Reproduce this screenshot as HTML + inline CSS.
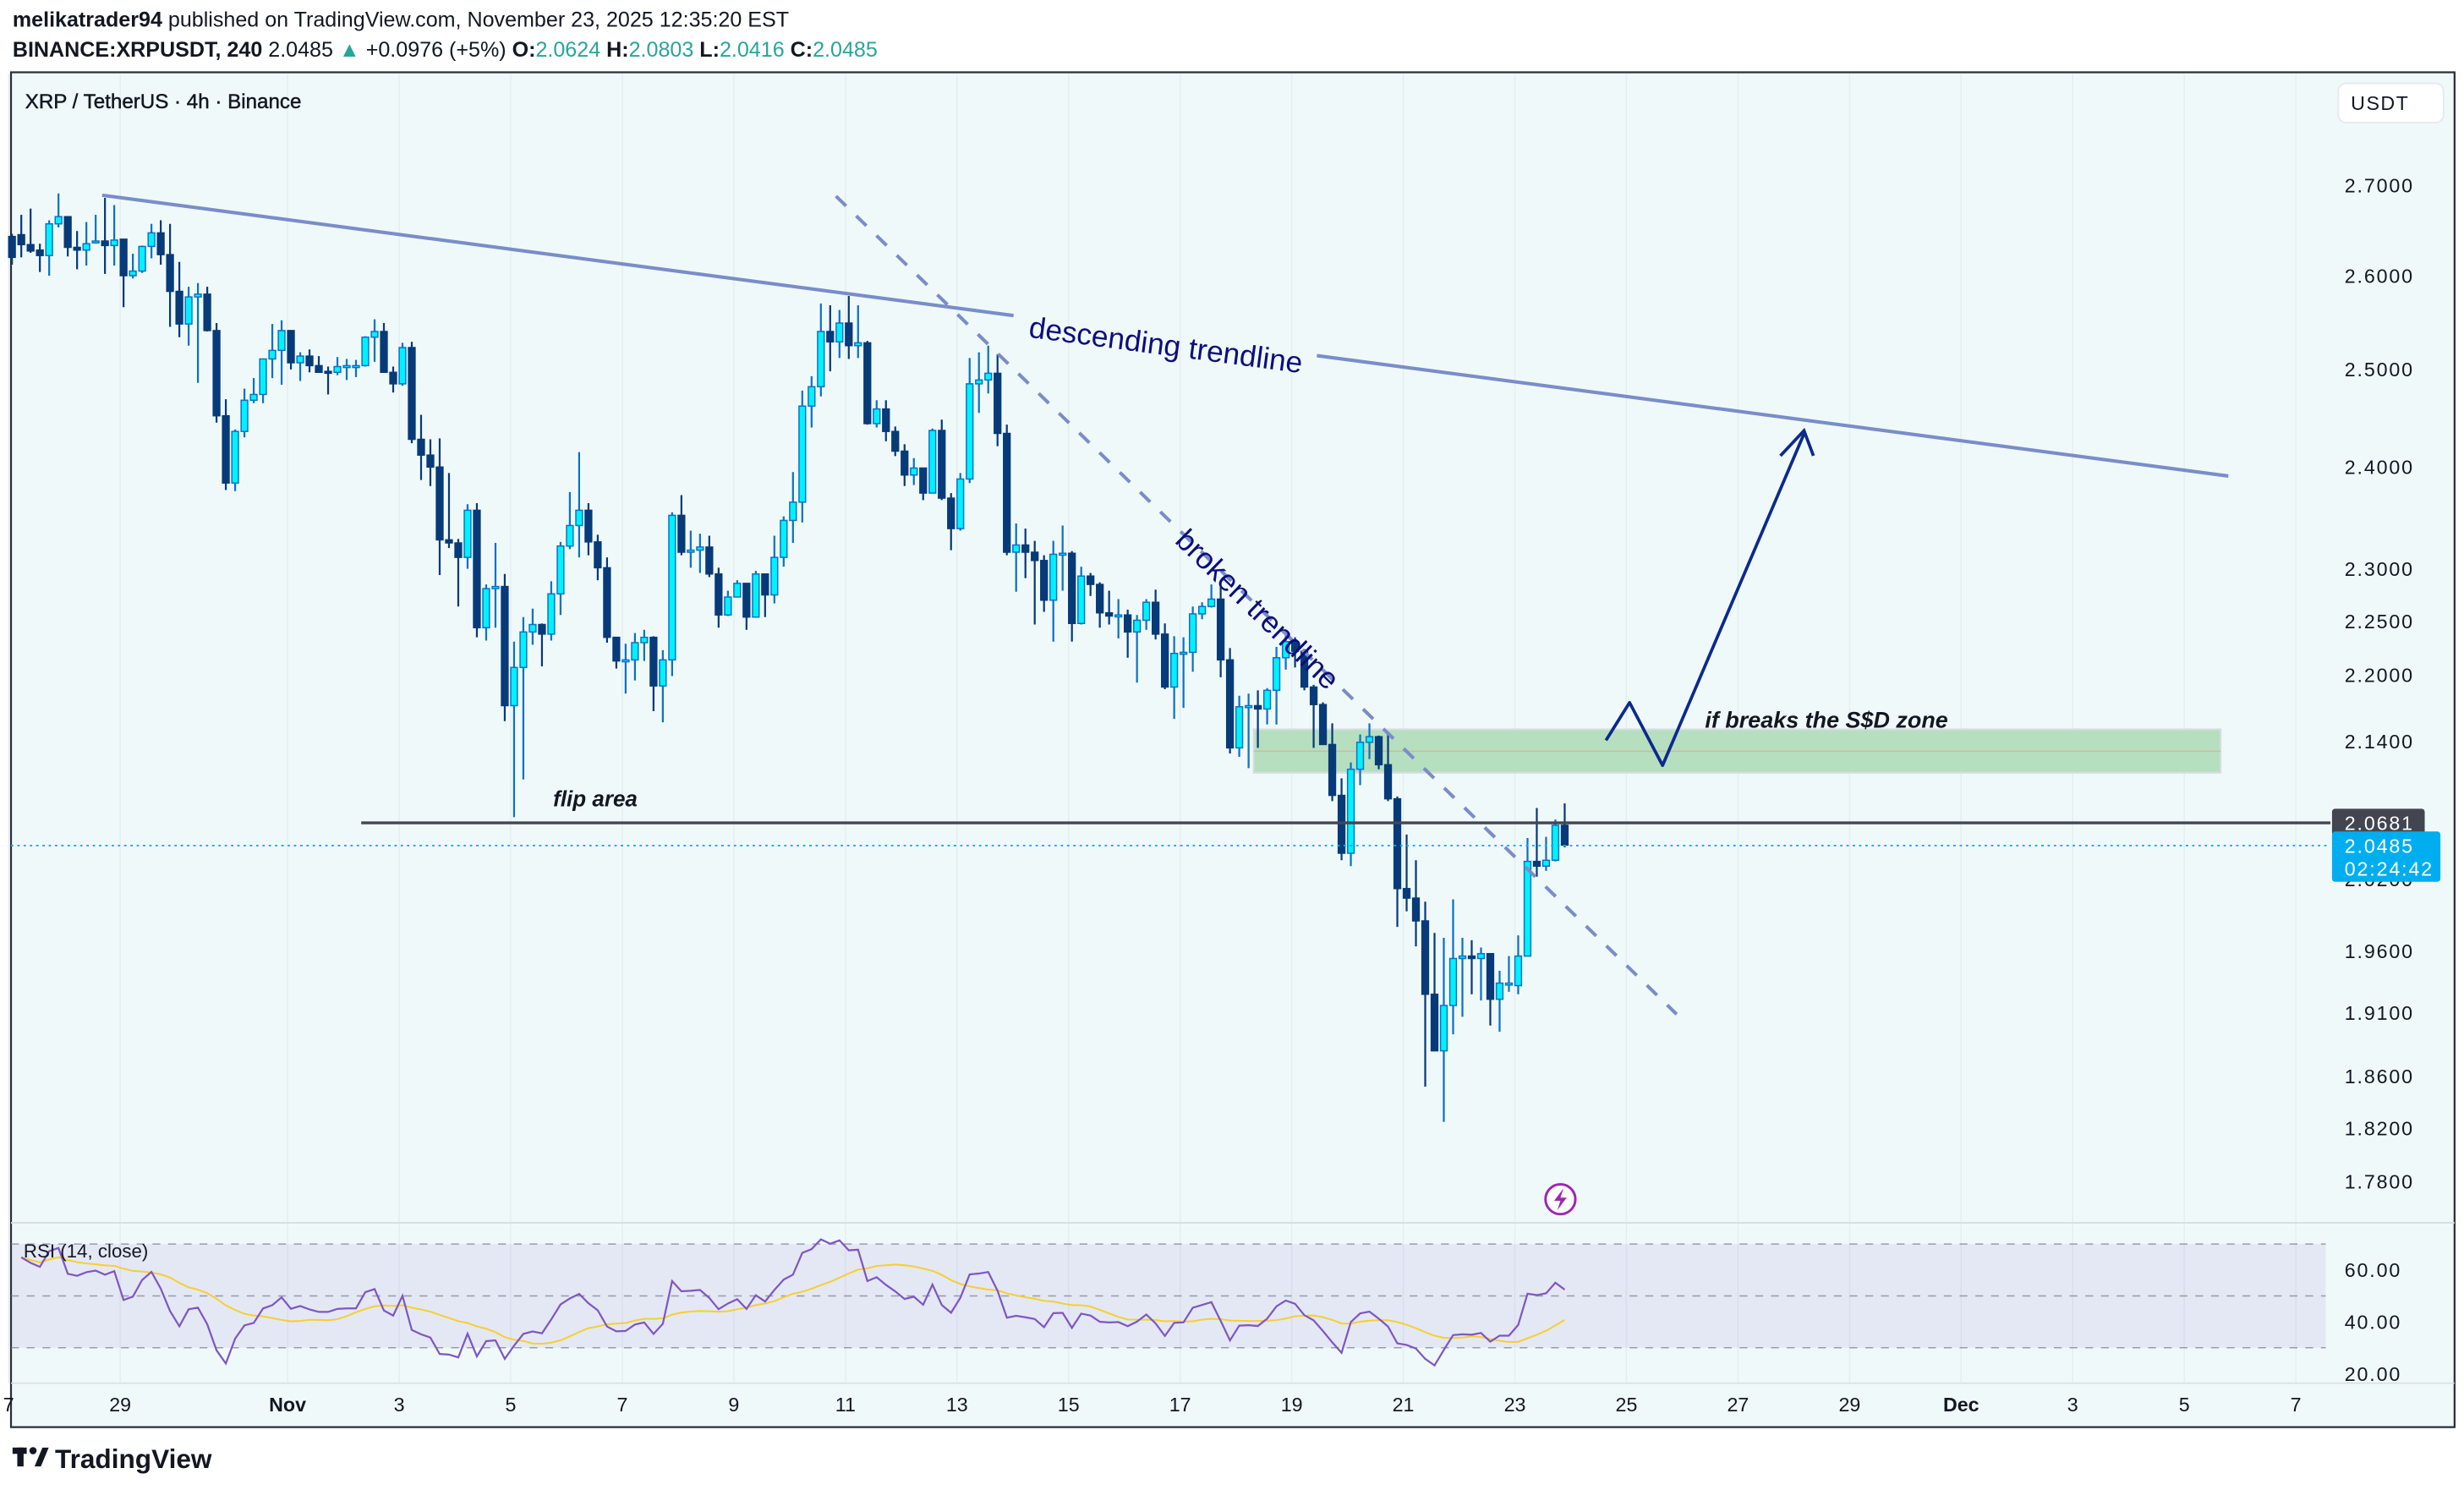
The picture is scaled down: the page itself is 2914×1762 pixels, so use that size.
<!DOCTYPE html>
<html><head><meta charset="utf-8">
<style>
html,body{margin:0;padding:0;background:#fff;}
body{width:2914px;height:1762px;overflow:hidden;font-family:"Liberation Sans",sans-serif;}
svg{display:block;}
</style></head>
<body>
<svg id="chart" width="2914" height="1762" viewBox="0 0 1568 948" preserveAspectRatio="none" xmlns="http://www.w3.org/2000/svg" font-family="Liberation Sans, sans-serif">
  <rect x="0" y="0" width="1568" height="948" fill="#ffffff"/>
  <text x="8" y="17" font-size="13.5" fill="#131722"><tspan font-weight="bold">melikatrader94</tspan> published on TradingView.com, November 23, 2025 12:35:20 EST</text>
  <text x="8" y="36" font-size="13.5" fill="#131722"><tspan font-weight="bold">BINANCE:XRPUSDT, 240</tspan> 2.0485 <tspan fill="#26a69a">▲</tspan> +0.0976 (+5%) <tspan font-weight="bold">O:</tspan><tspan fill="#26a69a">2.0624</tspan> <tspan font-weight="bold">H:</tspan><tspan fill="#26a69a">2.0803</tspan> <tspan font-weight="bold">L:</tspan><tspan fill="#26a69a">2.0416</tspan> <tspan font-weight="bold">C:</tspan><tspan fill="#26a69a">2.0485</tspan></text>
  <rect x="7" y="46" width="1555" height="862" fill="#f0f9fa" stroke="#2a2e39" stroke-width="1.2"/>
  <g id="grid"></g>
  <line x1="7" y1="778" x2="1562" y2="778" stroke="#d8dde2" stroke-width="1"/>
  <line x1="7" y1="880" x2="1562" y2="880" stroke="#d8dde2" stroke-width="0.8"/>
  <text x="16" y="69" font-size="13" fill="#131722" stroke="#131722" stroke-width="0.25">XRP / TetherUS · 4h · Binance</text>
  <rect x="1488" y="53" width="67" height="25" rx="5" fill="#ffffff" stroke="#e6e9ee"/>
  <text x="1496" y="70" font-size="12.5" fill="#131722" letter-spacing="0.8">USDT</text>
  <g id="annot-back"></g>
  <g id="candles"></g>
  <g id="annot"></g>
  <g id="rsi"></g>
  <g id="axes"></g>
  <g>
    <rect x="8" y="921" width="9" height="4" fill="#131722"/>
    <rect x="11" y="921" width="4" height="12" fill="#131722"/>
    <circle cx="21" cy="923" r="2.3" fill="#131722"/>
    <path d="M22,933 L27,921 L31,921 L26,933 Z" fill="#131722"/>
    <text x="35" y="934" font-size="17" font-weight="bold" fill="#131722">TradingView</text>
  </g>
</svg>
<script>
// ---- data ----
const opens = [2.643,2.645,2.634,2.628,2.622,2.657,2.665,2.631,2.628,2.636,
2.638,2.633,2.640,2.600,2.605,2.632,2.647,2.623,2.583,2.548,
2.577,2.580,2.541,2.452,2.384,2.436,2.468,2.474,2.511,2.520,
2.541,2.507,2.514,2.504,2.498,2.497,2.503,2.504,2.504,2.534,
2.540,2.497,2.485,2.523,2.428,2.412,2.400,2.328,2.325,2.311,
2.357,2.244,2.281,2.283,2.172,2.207,2.240,2.247,2.238,2.276,
2.322,2.342,2.357,2.326,2.301,2.235,2.213,2.214,2.230,2.235,
2.190,2.214,2.352,2.316,2.318,2.321,2.295,2.256,2.273,2.286,
2.254,2.295,2.275,2.311,2.347,2.365,2.462,2.482,2.540,2.529,
2.549,2.525,2.528,2.444,2.459,2.436,2.416,2.392,2.399,2.374,
2.437,2.369,2.339,2.388,2.485,2.489,2.496,2.434,2.316,2.323,
2.316,2.308,2.270,2.314,2.315,2.248,2.293,2.285,2.258,2.256,
2.256,2.240,2.251,2.268,2.238,2.189,2.220,2.221,2.257,2.264,
2.271,2.214,2.134,2.171,2.172,2.169,2.186,2.216,2.231,2.222,
2.189,2.173,2.137,2.092,2.042,2.115,2.139,2.144,2.119,2.089,
2.012,2.004,1.985,1.925,1.880,1.916,1.954,1.956,1.954,1.958,
1.921,1.934,1.932,1.956,2.035,2.031,2.036,2.066];
const highs = [2.646,2.667,2.674,2.635,2.661,2.691,2.665,2.649,2.659,2.667,
2.686,2.678,2.640,2.624,2.633,2.657,2.661,2.657,2.615,2.588,
2.592,2.588,2.549,2.469,2.438,2.480,2.491,2.511,2.548,2.552,
2.541,2.518,2.521,2.514,2.503,2.513,2.511,2.510,2.535,2.553,
2.549,2.503,2.528,2.529,2.453,2.428,2.429,2.394,2.329,2.363,
2.364,2.285,2.325,2.295,2.231,2.254,2.262,2.248,2.288,2.326,
2.375,2.415,2.364,2.333,2.311,2.235,2.229,2.239,2.242,2.236,
2.223,2.355,2.372,2.337,2.334,2.332,2.301,2.279,2.289,2.286,
2.298,2.295,2.332,2.351,2.395,2.478,2.493,2.570,2.568,2.563,
2.578,2.568,2.530,2.468,2.468,2.441,2.423,2.409,2.399,2.439,
2.448,2.374,2.394,2.512,2.518,2.525,2.516,2.443,2.344,2.339,
2.327,2.313,2.327,2.342,2.317,2.302,2.296,2.287,2.279,2.271,
2.261,2.256,2.271,2.280,2.248,2.236,2.235,2.264,2.268,2.285,
2.289,2.225,2.181,2.183,2.186,2.188,2.226,2.241,2.235,2.224,
2.191,2.175,2.156,2.107,2.121,2.146,2.156,2.145,2.148,2.091,
2.058,2.036,2.001,1.975,1.971,2.003,1.971,1.969,1.963,1.958,
1.944,1.956,1.973,2.055,2.081,2.056,2.071,2.085];
const lows = [2.612,2.620,2.625,2.604,2.600,2.653,2.621,2.607,2.611,2.635,
2.602,2.611,2.566,2.597,2.603,2.619,2.612,2.545,2.534,2.525,
2.486,2.540,2.445,2.377,2.376,2.430,2.465,2.465,2.491,2.484,
2.500,2.488,2.497,2.497,2.474,2.494,2.489,2.492,2.503,2.508,
2.497,2.476,2.483,2.424,2.387,2.381,2.294,2.320,2.264,2.300,
2.235,2.232,2.244,2.158,2.073,2.106,2.228,2.208,2.232,2.256,
2.319,2.311,2.313,2.289,2.230,2.206,2.183,2.195,2.213,2.167,
2.157,2.199,2.313,2.301,2.296,2.292,2.244,2.255,2.273,2.242,
2.254,2.254,2.267,2.302,2.325,2.345,2.440,2.472,2.498,2.512,
2.511,2.512,2.443,2.440,2.426,2.411,2.381,2.382,2.367,2.374,
2.367,2.318,2.337,2.384,2.455,2.475,2.421,2.313,2.278,2.291,
2.247,2.259,2.231,2.279,2.231,2.247,2.274,2.244,2.247,2.234,
2.216,2.193,2.242,2.233,2.187,2.160,2.170,2.203,2.252,2.263,
2.198,2.129,2.126,2.116,2.134,2.155,2.155,2.205,2.207,2.186,
2.134,2.137,2.087,2.036,2.031,2.101,2.124,2.115,2.087,1.980,
1.993,1.964,1.852,1.880,1.825,1.893,1.907,1.925,1.920,1.900,
1.895,1.927,1.925,1.956,2.022,2.027,2.035,2.047];
const closes = [2.620,2.634,2.627,2.622,2.657,2.665,2.631,2.628,2.635,2.638,
2.633,2.639,2.600,2.605,2.632,2.647,2.623,2.583,2.548,2.577,
2.580,2.541,2.452,2.384,2.436,2.468,2.474,2.511,2.520,2.541,
2.507,2.514,2.504,2.497,2.497,2.503,2.504,2.504,2.534,2.540,
2.497,2.485,2.523,2.428,2.412,2.400,2.328,2.325,2.311,2.357,
2.244,2.281,2.283,2.172,2.207,2.240,2.247,2.238,2.276,2.322,
2.342,2.357,2.326,2.301,2.235,2.213,2.214,2.230,2.235,2.190,
2.214,2.352,2.316,2.318,2.321,2.295,2.256,2.273,2.286,2.254,
2.295,2.275,2.311,2.347,2.365,2.462,2.482,2.540,2.529,2.549,
2.525,2.528,2.444,2.459,2.436,2.416,2.392,2.399,2.374,2.437,
2.369,2.339,2.388,2.485,2.489,2.496,2.434,2.316,2.323,2.316,
2.308,2.270,2.314,2.315,2.248,2.293,2.285,2.258,2.255,2.256,
2.240,2.251,2.268,2.238,2.189,2.220,2.221,2.257,2.264,2.271,
2.214,2.134,2.171,2.172,2.169,2.186,2.216,2.231,2.222,2.189,
2.173,2.137,2.092,2.042,2.115,2.139,2.144,2.119,2.089,2.012,
2.004,1.985,1.925,1.880,1.916,1.954,1.956,1.954,1.958,1.921,
1.934,1.934,1.956,2.035,2.031,2.036,2.066,2.049];
const priceTicks = [2.70,2.60,2.50,2.40,2.30,2.25,2.20,2.14,2.02,1.96,1.91,1.86,1.82,1.78];
const dateTickDays = [0,2,5,7,9,11,13,15,17,19,21,23,25,27,29,31,33,35,37,39,41];
const dateTickLabels = ["7","29","Nov","3","5","7","9","11","13","15","17","19","21","23","25","27","29","Dec","3","5","7"];
const rsiTicks = [60,40,20];
const rsiSeedGain = 0.010;  // prior average gain/loss before first visible bar
const rsiSeedLoss = 0.006;
const firstCandleDay = 0.06;   // days after Oct 27 00:00
const candlesPerDay = 6;
const flipPrice = 2.0681;
const lastPrice = 2.0485;

// ---- scales ----
function xDay(d){ return 5.5 + d*35.5; }
function xIdx(i){ return xDay(firstCandleDay + i/candlesPerDay); }
function yP(p){ return 118 + (Math.log(2.7) - Math.log(p))*1521; }
function yR(v){ return 841 - (v-40)*1.65; }

const NS = "http://www.w3.org/2000/svg";
function mk(tag, attrs, parent){
  const e = document.createElementNS(NS, tag);
  for (const k in attrs) e.setAttribute(k, attrs[k]);
  parent.appendChild(e); return e;
}
const gGrid = document.getElementById('grid');
const gC = document.getElementById('candles');
const gA = document.getElementById('annot');
const gB = document.getElementById('annot-back');
const gR = document.getElementById('rsi');
const gX = document.getElementById('axes');

// grid
dateTickDays.forEach(d => {
  const l = mk('line', {x1:xDay(d), x2:xDay(d), y1:47, y2:880, stroke:'#e4eef1', 'stroke-width':0.8}, gGrid);
  
  
});

// candles
for (let i=0;i<closes.length;i++){
  const x = xIdx(i);
  const bull = closes[i] >= opens[i];
  const g = mk('g', {}, gC);
  
  
  mk('line', {x1:x, x2:x, y1:yP(highs[i]), y2:yP(lows[i]), stroke: bull?'#0b72c4':'#073a78', 'stroke-width':1.2}, g);
  const top = yP(Math.max(opens[i],closes[i])), bot = yP(Math.min(opens[i],closes[i]));
  mk('rect', {x:x-2.1, y:top, width:4.2, height:Math.max(bot-top,1.2), fill: bull?'#00f2ff':'#073a78', stroke: bull?'#0b72c4':'#073a78', 'stroke-width':0.8}, g);
}

// annotations
const zone = {d1:22.32, d2:39.65, p1:2.1505, p2:2.112, mid:2.131};
let z = mk('rect', {x:xDay(zone.d1), y:yP(zone.p1), width:xDay(zone.d2)-xDay(zone.d1), height:yP(zone.p2)-yP(zone.p1), fill:'#b5dfbf', stroke:'#d6dcde', 'stroke-width':1.2}, gB);


mk('line', {x1:xDay(zone.d1), x2:xDay(zone.d2), y1:yP(zone.mid), y2:yP(zone.mid), stroke:'#d0b9a0', 'stroke-width':0.8}, gB);

let fl = mk('line', {x1:xDay(6.32), x2:1483, y1:yP(flipPrice), y2:yP(flipPrice), stroke:'#434651', 'stroke-width':1.8}, gA);


let ft = mk('text', {x:352, y:513, 'font-size':14, 'font-weight':'bold', 'font-style':'italic', fill:'#131722'}, gA);
ft.textContent = 'flip area';



let dl = mk('line', {x1:7, x2:1483, y1:yP(lastPrice), y2:yP(lastPrice), stroke:'#00aeef', 'stroke-width':1, 'stroke-dasharray':'1.5 2.5'}, gA);



// descending trendline (with label gap)
const tA = {d:1.676, p:2.689}, tB = {d:39.79, p:2.391};
const ax=xDay(tA.d), ay=yP(tA.p), bx=xDay(tB.d), by=yP(tB.p);
function lerp(t){ return [ax+(bx-ax)*t, ay+(by-ay)*t]; }
const g1=(645-ax)/(bx-ax), g2=(838-ax)/(bx-ax);
const s1=lerp(g1), s2=lerp(g2);
let tl = mk('path', {d:`M${ax},${ay} L${s1[0]},${s1[1]} M${s2[0]},${s2[1]} L${bx},${by}`, stroke:'#7a8dc9', 'stroke-width':2.2, fill:'none'}, gA);


const ang = Math.atan2(by-ay, bx-ax)*180/Math.PI;
let tt = mk('text', {x:742, y:226, 'font-size':19, fill:'#0d0f7a', 'text-anchor':'middle', transform:`rotate(${ang} 742 219)`}, gA);
tt.textContent = 'descending trendline';



// broken trendline dashed
const bA={d:14.83,p:2.688}, bB={d:29.90,p:1.909};
let bl = mk('line', {x1:xDay(bA.d), y1:yP(bA.p), x2:xDay(bB.d), y2:yP(bB.p), stroke:'#7a8dc9', 'stroke-width':2.2, 'stroke-dasharray':'9 9'}, gA);


const ang2 = Math.atan2(yP(bB.p)-yP(bA.p), xDay(bB.d)-xDay(bA.d))*180/Math.PI;
let bt = mk('text', {x:800, y:394, 'font-size':19, fill:'#0d0f7a', 'text-anchor':'middle', transform:`rotate(${ang2} 800 388)`}, gA);
bt.textContent = 'broken trendline';



// projection arrow
let ar = mk('path', {d:'M1022,471 L1037,447 L1058,487 L1148,276', stroke:'#0c2a8c', 'stroke-width':2, fill:'none', 'stroke-linejoin':'round'}, gA);


mk('path', {d:'M1133,290 L1148,274 L1154,290', stroke:'#0c2a8c', 'stroke-width':2, fill:'none'}, gA);
let at = mk('text', {x:1085, y:463, 'font-size':14.5, 'font-weight':'bold', 'font-style':'italic', fill:'#131722'}, gA);
at.textContent = 'if breaks the S$D zone';



// lightning icon
let li = mk('circle', {cx:993, cy:763, r:9.5, fill:'#fff', stroke:'#9c27b0', 'stroke-width':1.6}, gA);


mk('path', {d:'M995,756 L989,764 L993,764 L991,770 L997,762 L993,762 Z', fill:'#9c27b0'}, gA);

// RSI (Wilder, seeded)
let ag=rsiSeedGain, al=rsiSeedLoss; const rsi=[];
for (let i=1;i<closes.length;i++){
  const ch = closes[i]-closes[i-1];
  const g = Math.max(ch,0), l = Math.max(-ch,0);
  ag = (ag*13+g)/14; al = (al*13+l)/14;
  rsi.push({i:i, v: al===0?100:100-100/(1+ag/al)});
}
const rsiMa=[];
for (let k=0;k<rsi.length;k++){
  const s = rsi.slice(Math.max(0,k-13),k+1);
  rsiMa.push({i:rsi[k].i, v:s.reduce((a,b)=>a+b.v,0)/s.length});
}
let band = mk('rect', {x:7, y:yR(70), width:1473, height:yR(30)-yR(70), fill:'#7e57c2', 'fill-opacity':0.1}, gR);


[70,50,30].forEach(v=>{
  mk('line', {x1:7, x2:1480, y1:yR(v), y2:yR(v), stroke:'#787b86', 'stroke-width':0.8, 'stroke-dasharray':'5 5', 'stroke-opacity':0.7}, gR);
});
let rma = mk('polyline', {points: rsiMa.map(o=>xIdx(o.i)+','+yR(o.v)).join(' '), fill:'none', stroke:'#f5d033', 'stroke-width':1.1}, gR);


let rl = mk('polyline', {points: rsi.map(o=>xIdx(o.i)+','+yR(o.v)).join(' '), fill:'none', stroke:'#7e57c2', 'stroke-width':1.2}, gR);


let rt = mk('text', {x:15, y:800, 'font-size':12, fill:'#131722'}, gR);
rt.textContent = 'RSI (14, close)';



// axes
priceTicks.forEach(p=>{
  const t = mk('text', {x:1492, y:yP(p)+4.5, 'font-size':12.5, fill:'#131722', 'letter-spacing':1}, gX);
  t.textContent = p.toFixed(4);
  
  
});
rsiTicks.forEach(v=>{
  const t = mk('text', {x:1492, y:yR(v)+4.5, 'font-size':12.5, fill:'#131722', 'letter-spacing':1}, gX);
  t.textContent = v.toFixed(2);
  
  
});
dateTickDays.forEach((d,k)=>{
  const t = mk('text', {x:xDay(d), y:898, 'font-size':12.5, fill:'#131722', 'text-anchor':'middle', 'font-weight': (dateTickLabels[k]==='Nov'||dateTickLabels[k]==='Dec')?'bold':'normal'}, gX);
  t.textContent = dateTickLabels[k];
  
  
});
// price badges
let fb = mk('rect', {x:1484, y:yP(flipPrice)-9, width:59, height:17, rx:2, fill:'#434651'}, gX);


let fbt = mk('text', {x:1492, y:yP(flipPrice)+4.5, 'font-size':12.5, fill:'#fff', 'letter-spacing':1}, gX);
fbt.textContent = flipPrice.toFixed(4);
let lb = mk('rect', {x:1484, y:yP(lastPrice)-9, width:69, height:32, rx:2, fill:'#00aeef'}, gX);


let lbt = mk('text', {x:1492, y:yP(lastPrice)+4.5, 'font-size':12.5, fill:'#fff', 'letter-spacing':1}, gX);
lbt.textContent = lastPrice.toFixed(4);
let lbc = mk('text', {x:1492, y:yP(lastPrice)+19, 'font-size':12.5, fill:'#fff', 'letter-spacing':1}, gX);
lbc.textContent = '02:24:42';
</script>
</body></html>
